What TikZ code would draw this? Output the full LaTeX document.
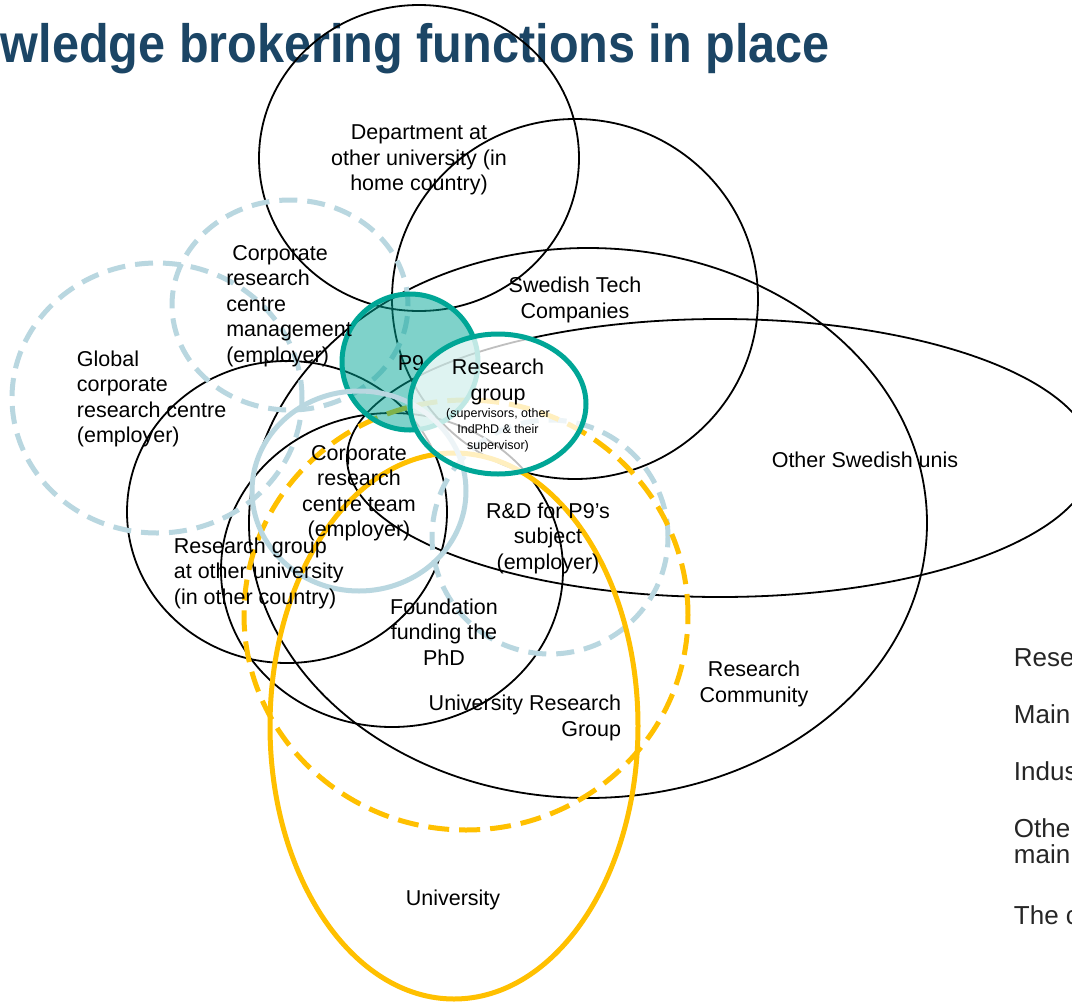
\documentclass[tikz,border=0pt]{standalone}
\usepackage{fontspec}
\setmainfont{Liberation Sans}
\newfontfamily\titlefont[FakeStretch=0.9]{Liberation Sans}
\definecolor{titleBlue}{RGB}{27,69,101}
\definecolor{tealRing}{RGB}{0,166,150}
\definecolor{paleBlue}{RGB}{185,215,224}
\definecolor{goldRing}{RGB}{255,192,0}
\definecolor{sideGray}{RGB}{38,38,38}
\tikzstyle{vennsets}=[%
    every path/.style = {%
		line width=1.8pt
    },%
	blackSet/.style={%
		draw=black
	},
	corpSet/.style={%
		draw=paleBlue,
		line width=5pt,
		dash pattern=on 18pt off 10pt
	},
	teamSet/.style={%
		draw=paleBlue,
		line width=5pt
	},
	uniSet/.style={%
		draw=goldRing,
		line width=5pt
	},
	p9Set/.style={%
		draw=tealRing,
		fill=tealRing,
		fill opacity=0.5,
		line width=5pt
	},
	groupSet/.style={%
		draw=tealRing,
		fill=white,
		fill opacity=0.75,
		line width=5pt
	},
	setLabel/.style={%
		align=center,
		inner sep=0pt,
		font=\fontsize{21.5}{25.5}\selectfont
	},
	sideLabel/.style={%
		anchor=base west,
		inner sep=0pt,
		text=sideGray,
		font=\fontsize{26}{26}\selectfont
	}
]

\begin{document}
\begin{tikzpicture}[
	x=1pt,
	y=-1pt,
	vennsets
]
	\useasboundingbox[fill=white] (0,0) rectangle (1072,1002);

	\node[anchor=base west, inner sep=0pt, text=titleBlue,
		font=\titlefont\fontsize{54}{54}\selectfont\bfseries] (title) at (0,62)
		{wledge brokering functions in place};

	% black sets
	\draw[blackSet] (419,158) ellipse (160pt and 153pt);
	\draw[blackSet] (575,299) ellipse (183pt and 180pt);
	\draw[blackSet] (720,458) ellipse (373pt and 139pt);
	\draw[blackSet] (588,523) ellipse (339pt and 275pt);
	\draw[blackSet] (287,512) ellipse (160pt and 151pt);
	\draw[blackSet] (392,570) ellipse (171pt and 157pt);

	% corporate sets
	\draw[corpSet] (157,398) ellipse (145pt and 135pt);
	\draw[corpSet] (290,305) ellipse (118pt and 105pt);
	\draw[corpSet] (550,537) ellipse (118pt and 117pt);

	% university sets
	\draw[uniSet] (454,726) ellipse (184pt and 273pt);
	\draw[uniSet, dash pattern=on 21pt off 10pt] (466,615) ellipse (222pt and 215pt);

	% P9 and the groups round it
	\draw[p9Set] (410,362) circle (68pt);
	\node[setLabel] (p9) at (411,363) {P9};
	\draw[teamSet] (359,491) ellipse (107pt and 100pt);
	\draw[groupSet] (498,404) ellipse (88pt and 70pt);

	\node[setLabel] (dept) at (419,160) {Department at\\other university (in\\home country)};
	\node[setLabel] (tech) at (575,300) {Swedish Tech\\Companies};
	\node[setLabel, align=left] (mgmt) at (289,306) {\hspace*{6pt}Corporate\\research\\centre\\management\\(employer)};
	\node[setLabel, align=left, anchor=west] (global) at (76,399) {Global\\corporate\\research centre\\(employer)};
	\node[setLabel] (group) at (498,382) {Research\\group};
	\node[setLabel, font=\fontsize{12.5}{15.8}\selectfont] (groupNote) at (498,430)
		{(supervisors, other\\IndPhD \& their\\supervisor)};
	\node[setLabel] (team) at (359,493) {Corporate\\research\\centre team\\(employer)};
	\node[setLabel, align=left, anchor=west] (otherUni) at (173,573) {Research group\\at other university\\(in other country)};
	\node[setLabel] (rnd) at (548,538) {R\&D for P9’s\\subject\\(employer)};
	\node[setLabel] (fund) at (444,632) {Foundation\\funding the\\PhD};
	\node[setLabel, align=right, anchor=east] (uniGroup) at (622,718) {University Research\\Group};
	\node[setLabel] (community) at (754,684) {Research\\Community};
	\node[setLabel] (swedUnis) at (865,460) {Other Swedish unis};
	\node[setLabel] (uni) at (453,900) {University};

	% cut-off list on the right
	\node[sideLabel] (side1) at (1013,666) {Rese};
	\node[sideLabel] (side2) at (1013,723) {Main};
	\node[sideLabel] (side3) at (1013,780) {Indus};
	\node[sideLabel] (side4) at (1013,837) {Othe};
	\node[sideLabel] (side5) at (1013,863) {main};
	\node[sideLabel] (side6) at (1013,924) {The c};
\end{tikzpicture}
\end{document}
